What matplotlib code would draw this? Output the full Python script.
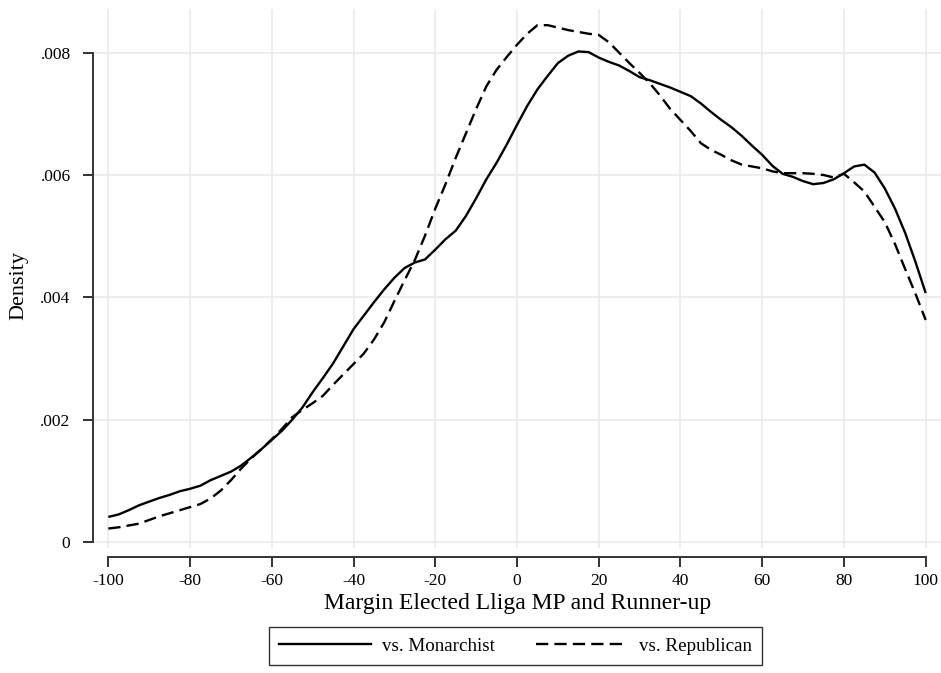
import matplotlib
matplotlib.use("Agg")
import matplotlib.pyplot as plt
from matplotlib.lines import Line2D

plt.rcParams["font.family"] = ["Liberation Serif", "DejaVu Serif"]

# Kernel density estimates of the winning margin, by type of runner-up
margin = [-100, -97.5, -95, -92.5, -90, -87.5, -85, -82.5, -80, -77.5,
          -75, -72.5, -70, -67.5, -65, -62.5, -60, -57.5, -55, -52.5,
          -50, -47.5, -45, -42.5, -40, -37.5, -35, -32.5, -30, -27.5,
          -25, -22.5, -20, -17.5, -15, -12.5, -10, -7.5, -5, -2.5,
          0, 2.5, 5, 7.5, 10, 12.5, 15, 17.5, 20, 22.5,
          25, 27.5, 30, 32.5, 35, 37.5, 40, 42.5, 45, 47.5,
          50, 52.5, 55, 57.5, 60, 62.5, 65, 67.5, 70, 72.5,
          75, 77.5, 80, 82.5, 85, 87.5, 90, 92.5, 95, 97.5, 100]

dens_monarchist = [.00041, .00045, .00052, .00060, .00066, .00072, .00077, .00083, .00087, .00092,
                   .00101, .00108, .00115, .00125, .00138, .00152, .00167, .00182, .00200, .00220,
                   .00245, .00268, .00292, .00320, .00348, .00370, .00392, .00413, .00432, .00448,
                   .00457, .00462, .00478, .00495, .00509, .00533, .00562, .00593, .00620, .00650,
                   .00682, .00713, .00740, .00762, .00783, .00795, .00802, .00801, .00792, .00785,
                   .00779, .00770, .00760, .00755, .00749, .00743, .00736, .00729, .00717, .00703,
                   .00690, .00678, .00664, .00648, .00633, .00615, .00602, .00597, .00590, .00585,
                   .00587, .00593, .00603, .00614, .00617, .00604, .00578, .00545, .00505, .00458, .00407]

dens_republican = [.00022, .00024, .00027, .00030, .00036, .00042, .00047, .00052, .00057, .00062,
                   .00071, .00084, .00101, .00120, .00137, .00152, .00168, .00185, .00204, .00216,
                   .00227, .00239, .00257, .00274, .00291, .00308, .00331, .00359, .00394, .00428,
                   .00461, .00501, .00545, .00585, .00628, .00668, .00708, .00745, .00772, .00793,
                   .00813, .00831, .00845, .00845, .00841, .00837, .00834, .00831, .00829, .00817,
                   .00800, .00783, .00767, .00750, .00730, .00708, .00690, .00672, .00652, .00641,
                   .00633, .00624, .00617, .00614, .00611, .00606, .00603, .00603, .00603, .00602,
                   .00600, .00596, .00602, .00588, .00573, .00548, .00523, .00487, .00446, .00406, .00363]

x_ticks = [-100, -80, -60, -40, -20, 0, 20, 40, 60, 80, 100]
x_ticklabels = ["-100", "-80", "-60", "-40", "-20", "0", "20", "40", "60", "80", "100"]
y_ticks = [0, .002, .004, .006, .008]
y_ticklabels = ["0", ".002", ".004", ".006", ".008"]

W, H = 941, 673
fig = plt.figure(figsize=(W / 100, H / 100), dpi=100)
fig.patch.set_facecolor("white")

# axes box in pixel coordinates
left, right, top, bottom = 93, 941, 9.3, 548
ax = fig.add_axes([left / W, 1 - bottom / H, (right - left) / W, (bottom - top) / H])
ax.set_xlim(-103.75, 103.75)
ax.set_ylim((542 - bottom) / 61163, (542 - top) / 61163)

grid_kw = dict(color="#e8e8e8", lw=1.1, zorder=0)
for xv in x_ticks:
    ax.axvline(xv, **grid_kw)
for yv in y_ticks:
    ax.axhline(yv, **grid_kw)

line_kw = dict(color="black", lw=1.7, zorder=3)
ax.plot(margin, dens_monarchist, solid_capstyle="butt", **line_kw)
ax.plot(margin, dens_republican, dashes=(5.2, 2.6), **line_kw)

axis_col = "#333333"
for s in ["top", "right"]:
    ax.spines[s].set_visible(False)
ax.spines["left"].set_bounds(0, .008)
ax.spines["bottom"].set_bounds(-100, 100)
ax.spines["bottom"].set_position(("outward", 6.5))
for s in ["left", "bottom"]:
    ax.spines[s].set_color(axis_col)
    ax.spines[s].set_linewidth(1.4)

ax.set_xticks(x_ticks)
ax.set_xticklabels(x_ticklabels)
ax.set_yticks(y_ticks)
ax.set_yticklabels(y_ticklabels)
ax.tick_params(axis="both", direction="out", length=7.2, width=1.4, color=axis_col,
               labelsize=12.5, labelcolor="black")
ax.tick_params(axis="y", pad=9)
ax.tick_params(axis="x", pad=4)

fig.text(518 / W, 1 - 604 / H, "Margin Elected Lliga MP and Runner-up",
         ha="center", va="center", fontsize=17)
fig.text(19 / W, 1 - 285 / H, "Density", ha="center", va="center",
         rotation=90, fontsize=16)

handles = [Line2D([], [], color="black", lw=1.7),
           Line2D([], [], color="black", lw=1.7, dashes=(5.2, 2.6))]
leg = fig.legend(handles, ["vs. Monarchist", "vs. Republican"], ncol=2,
                 loc="center", bbox_to_anchor=(515.5 / W, 1 - 646 / H),
                 fontsize=13.7, frameon=True, fancybox=False, handlelength=4.8,
                 handletextpad=0.6, columnspacing=2.15, borderpad=0.55,
                 borderaxespad=0)
leg.get_frame().set_edgecolor("black")
leg.get_frame().set_linewidth(1.0)

fig.savefig("out.png", dpi=100, facecolor="white")
